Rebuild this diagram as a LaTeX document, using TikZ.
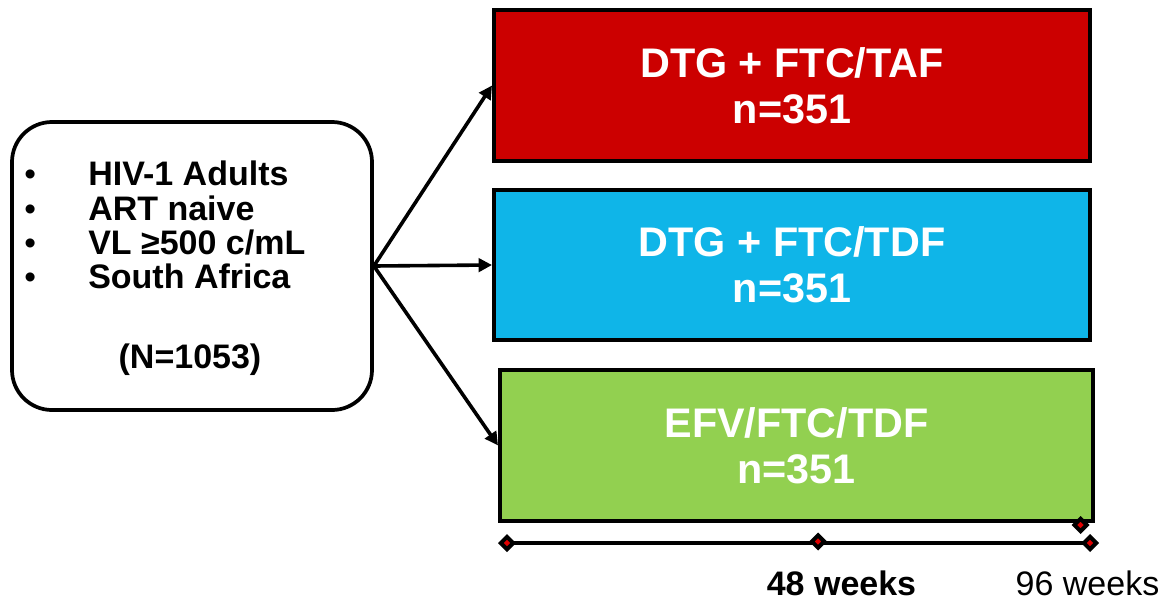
\documentclass[tikz,border=0pt]{standalone}
\usepackage{fontspec}
\setmainfont{Liberation Sans}
\usetikzlibrary{arrows.meta,shapes.geometric}
\definecolor{armred}{HTML}{CC0000}
\definecolor{armblue}{HTML}{0FB5E8}
\definecolor{armgreen}{HTML}{92D050}
\definecolor{tickred}{HTML}{E00000}
\tikzset{
  armbox/.style={draw=black, line width=3pt, minimum width=447pt, minimum height=113pt,
    inner sep=0pt, text=white, align=center, font=\bfseries\fontsize{31}{34.5}\selectfont},
  popbox/.style={draw=black, line width=2.8pt, rounded corners=30pt, minimum width=270pt,
    minimum height=216pt, inner sep=0pt},
  listtxt/.style={anchor=base west, inner sep=0pt, font=\bfseries\fontsize{25.5}{28}\selectfont},
  bullettxt/.style={anchor=base west, inner sep=0pt, font=\fontsize{25}{28}\selectfont},
  flow/.style={line width=2.7pt, -{Triangle[length=10pt,width=10pt]}},
  tickmark/.style={diamond, draw=black, fill=tickred, line width=3pt, minimum size=10.5pt, inner sep=0pt},
  weektxt/.style={anchor=base, inner sep=0pt, font=\fontsize{25.5}{28}\selectfont},
}
\begin{document}
\begin{tikzpicture}[x=0.75pt,y=-0.75pt]
\useasboundingbox[fill=white] (0,0) rectangle (1166,600);
% population box
\node[popbox] (pop) at (192,266) {};
\node[bullettxt] (b1) at (24,185) {•};
\node[listtxt] (t1) at (88,185) {HIV-1 Adults};
\node[bullettxt] (b2) at (24,220) {•};
\node[listtxt] (t2) at (88,220) {ART naive};
\node[bullettxt] (b3) at (24,254) {•};
\node[listtxt] (t3) at (88,254) {VL ≥500 c/mL};
\node[bullettxt] (b4) at (24,288.5) {•};
\node[listtxt] (t4) at (88,288.5) {South Africa};
\node[listtxt, anchor=base] (nn) at (190,368) {(N=1053)};
% arms
\node[armbox, fill=armred] (taf) at (792,85.5) {DTG + FTC/TAF\\n=351};
\node[armbox, fill=armblue] (tdf) at (792,265) {DTG + FTC/TDF\\n=351};
\node[armbox, fill=armgreen, minimum width=444.75pt] (efv) at (796.5,445.5) {EFV/FTC/TDF\\n=351};
% arrows
\draw[flow] (pop.east) -- (taf.west);
\draw[flow] (pop.east) -- (tdf.west);
\draw[flow] (pop.east) -- (efv.west);
% timeline
\coordinate (l1) at (507,543);
\coordinate (l2) at (1090,543);
\draw[line width=3pt] (l1) -- (l2);
\node[tickmark] (d1) at (l1) {};
\node[tickmark] (d3) at (l2) {};
\node[tickmark] (d2) at (818,541.5) {};
\node[tickmark] (d4) at (1080.5,525) {};
\node[weektxt, font=\bfseries\fontsize{25.5}{28}\selectfont] (w48) at (841.5,595) {48 weeks};
\node[weektxt] (w96) at (1087.5,595) {96 weeks};
\end{tikzpicture}
\end{document}
